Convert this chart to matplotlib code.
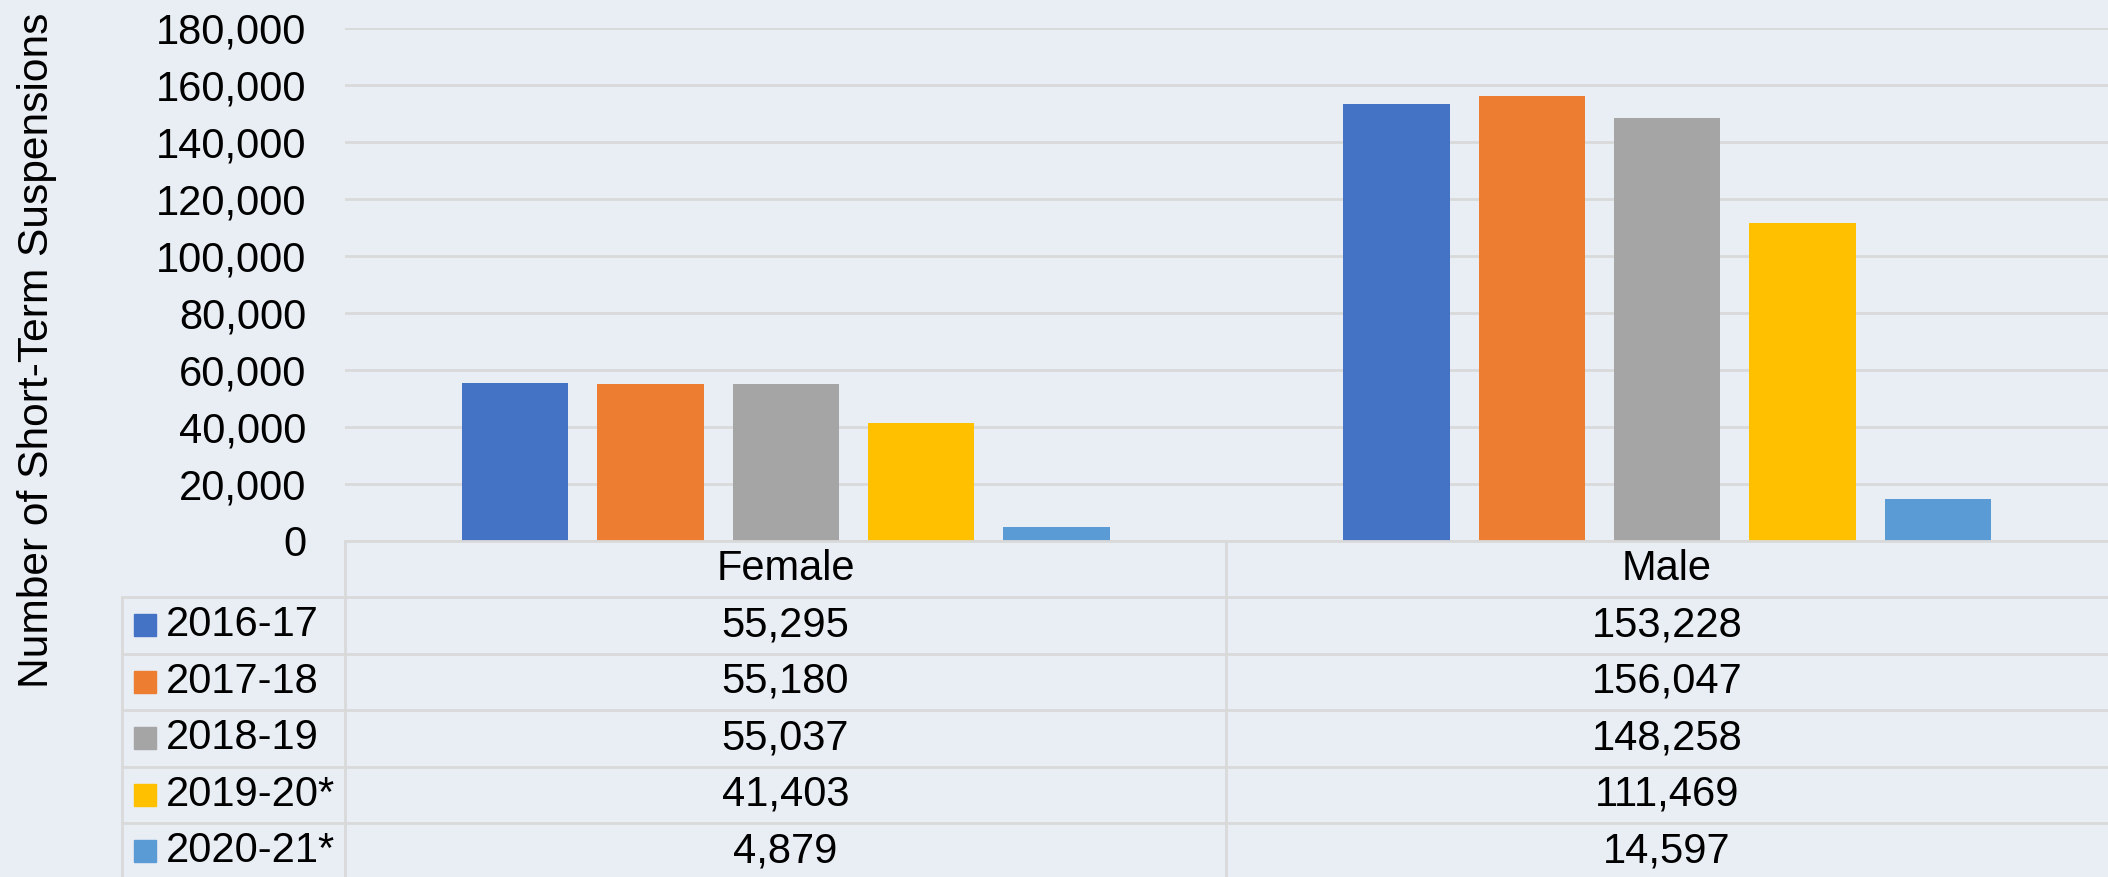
import matplotlib
matplotlib.use("Agg")
import matplotlib.pyplot as plt
from matplotlib.patches import Rectangle
from matplotlib.ticker import FuncFormatter
import numpy as np

categories = ["Female", "Male"]
years = ["2016-17", "2017-18", "2018-19", "2019-20*", "2020-21*"]
female = [55295, 55180, 55037, 41403, 4879]
male = [153228, 156047, 148258, 111469, 14597]
colors = ["#4472C4", "#ED7D31", "#A5A5A5", "#FFC000", "#5B9BD5"]
ylabel = "Number of Short-Term Suspensions"

BG = "#E9EEF5"
GRID = "#D9D9D9"
FONT = ["Liberation Sans", "Arial", "DejaVu Sans"]
FS = 30

plt.rcParams['font.family'] = FONT

W, H = 2108, 877
fig = plt.figure(figsize=(W / 100, H / 100), dpi=100, facecolor=BG)

# pixel geometry
ax_left, ax_right, ax_top, ax_bottom = 345, 2108, 28, 541
ax = fig.add_axes([ax_left / W, 1 - ax_bottom / H, (ax_right - ax_left) / W, (ax_bottom - ax_top) / H])
ax.set_facecolor(BG)

values = np.array([female, male]).T  # shape (years, categories)
x = np.arange(len(categories))
pitch = 0.1536
width = 0.1206
for j, (yr, col) in enumerate(zip(years, colors)):
    ax.bar(x + (j - 2) * pitch, values[j], width=width, color=col, zorder=3)

ax.set_xlim(-0.5, 1.5)
ax.set_ylim(0, 180000)
ax.set_yticks(np.arange(0, 180001, 20000))
ax.yaxis.set_major_formatter(FuncFormatter(lambda v, p: f"{int(v):,}"))
ax.tick_params(axis='y', length=0, pad=28, labelsize=FS, colors="black")
ax.set_xticks([])
ax.grid(axis='y', color=GRID, linewidth=2, zorder=0)
for s in ax.spines.values():
    s.set_visible(False)

fig.text(37 / W, 1 - 350 / H, ylabel, rotation=90, ha='center', va='center', fontsize=30.6)

# data table below the plot (pixel coordinates overlay)
tax = fig.add_axes([0, 0, 1, 1], facecolor='none')
tax.set_xlim(0, W)
tax.set_ylim(H, 0)
tax.axis('off')

col_edges = [345, 1226, 2108]
header_top, header_bot = 541, 597
row_h = 56.5
lw = 2

# header
for i, cat in enumerate(categories):
    cx = (col_edges[i] + col_edges[i + 1]) / 2
    tax.text(cx, (header_top + header_bot) / 2, cat, ha='center', va='center', fontsize=FS)
# horizontal lines
tax.plot([345, W], [header_top, header_top], color=GRID, lw=lw)
for r in range(len(years)):
    y0 = header_bot + r * row_h
    tax.plot([122, W], [y0, y0], color=GRID, lw=lw)
# vertical lines
tax.plot([122, 122], [header_bot, H], color=GRID, lw=lw)
for xe in col_edges[:-1]:
    tax.plot([xe, xe], [header_top, H], color=GRID, lw=lw)

for r, (yr, col) in enumerate(zip(years, colors)):
    cy = header_bot + (r + 0.5) * row_h
    tax.add_patch(Rectangle((134, cy - 11), 22, 22, color=col))
    tax.text(166, cy, yr, ha='left', va='center', fontsize=FS)
    for i in range(len(categories)):
        cx = (col_edges[i] + col_edges[i + 1]) / 2
        tax.text(cx, cy, f"{values[r][i]:,}", ha='center', va='center', fontsize=FS)

fig.savefig("out.png", dpi=100, facecolor=BG)
